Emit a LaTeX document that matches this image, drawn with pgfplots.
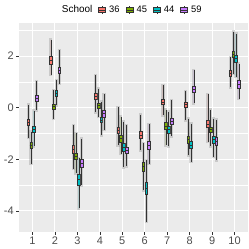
\documentclass[border=0pt]{standalone}
\usepackage{fontspec}
\setmainfont{Liberation Sans}
\usepackage{pgfplots}
\pgfplotsset{compat=1.18}
\usepgfplotslibrary{statistics}
\definecolor{c36}{HTML}{F8766D}
\definecolor{c45}{HTML}{7CAE00}
\definecolor{c44}{HTML}{00BFC4}
\definecolor{c59}{HTML}{C77CFF}
\definecolor{panel}{HTML}{EBEBEB}
\definecolor{gtext}{HTML}{4D4D4D}
\definecolor{gline}{HTML}{333333}
% #1 position, #2 colour, #3 lower whisker, #4 q1, #5 median, #6 q3, #7 upper whisker
\newcommand{\bx}[7]{%
  \addplot[forget plot, gray, opacity=0.3, line width=3.2bp] coordinates {(#1,#3-0.06) (#1,#7+0.06)};
  \addplot[forget plot, draw=gline, fill=#2, line width=0.4pt,
    boxplot/draw direction=y,
    boxplot/whisker extend=0,
    boxplot prepared={draw position=#1, lower whisker=#3, lower quartile=#4,
      median=#5, upper quartile=#6, upper whisker=#7, box extend=0.12}] coordinates {};
}
\newcommand{\keyimg}[1]{\addlegendimage{legend image code/.code={
  \draw[gline, line width=0.3pt] (3.5bp,-4bp)--(3.5bp,4bp);
  \draw[fill=#1, draw=gline, line width=0.3pt] (0bp,-2.5bp) rectangle (7bp,2.5bp);
  \draw[gline, line width=0.4pt] (0bp,0)--(7bp,0);}}}
\begin{document}
\begin{tikzpicture}
\begin{axis}[
  scale only axis, width=229bp, height=209bp,
  xmin=0.4, xmax=10.6, ymin=-4.82, ymax=3.28,
  axis background/.style={fill=panel},
  axis line style={draw=none},
  xtick={1,...,10}, ytick={-4,-2,0,2},
  minor ytick={-3,-1,1,3},
  grid=both,
  major grid style={white, line width=0.9bp},
  minor grid style={white, line width=0.45bp},
  tick align=outside, tick pos=left,
  major tick length=2.75bp,
  tick style={gline, line width=0.5bp},
  minor tick length=0pt,
  /pgf/number format/assume math mode=true,
  ticklabel style={font=\fontsize{11}{12}\selectfont, text=gtext},
  xticklabel style={yshift=1bp},
  yticklabel style={xshift=1bp},
  legend style={at={(0.489,1.062)}, anchor=center, draw=none, fill=none,
    font=\fontsize{9.4}{10}\selectfont, inner sep=0pt,
    /tikz/every odd column/.append style={column sep=1.5bp},
    /tikz/every even column/.append style={column sep=4bp}},
  legend columns=-1,
  legend cell align=left,
]
\addlegendimage{empty legend}\addlegendentry{\fontsize{10}{10}\selectfont School}
\keyimg{c36}\addlegendentry{36}
\keyimg{c45}\addlegendentry{45}
\keyimg{c44}\addlegendentry{44}
\keyimg{c59}\addlegendentry{59}
% group 1
\bx{0.8125}{c36}{-1.16}{-0.67}{-0.55}{-0.44}{0.12}
\bx{0.9375}{c45}{-2.17}{-1.59}{-1.47}{-1.35}{-0.94}
\bx{1.0625}{c44}{-1.50}{-0.97}{-0.85}{-0.72}{-0.13}
\bx{1.1875}{c59}{-0.10}{0.25}{0.37}{0.50}{1.02}
% group 2
\bx{1.8125}{c36}{1.28}{1.70}{1.85}{1.99}{2.63}
\bx{1.9375}{c45}{-0.43}{-0.05}{0.05}{0.15}{0.67}
\bx{2.0625}{c44}{0.09}{0.44}{0.55}{0.67}{1.06}
\bx{2.1875}{c59}{0.93}{1.34}{1.46}{1.57}{2.22}
% group 3
\bx{2.8125}{c36}{-2.36}{-1.78}{-1.61}{-1.46}{-0.68}
\bx{2.9375}{c45}{-2.55}{-2.01}{-1.88}{-1.75}{-1.00}
\bx{3.0625}{c44}{-3.90}{-3.00}{-2.79}{-2.58}{-1.97}
\bx{3.1875}{c59}{-3.00}{-2.30}{-2.17}{-2.01}{-1.20}
% group 4
\bx{3.8125}{c36}{-0.17}{0.31}{0.44}{0.57}{1.25}
\bx{3.9375}{c45}{-0.36}{-0.01}{0.08}{0.17}{0.74}
\bx{4.0625}{c44}{-1.07}{-0.58}{-0.48}{-0.37}{0.22}
\bx{4.1875}{c59}{-0.85}{-0.36}{-0.23}{-0.10}{0.52}
% group 5
\bx{4.8125}{c36}{-1.46}{-1.00}{-0.88}{-0.75}{0.02}
\bx{4.9375}{c45}{-1.78}{-1.33}{-1.20}{-1.07}{-0.36}
\bx{5.0625}{c44}{-2.30}{-1.68}{-1.54}{-1.39}{-0.55}
\bx{5.1875}{c59}{-2.27}{-1.78}{-1.65}{-1.52}{-0.68}
% group 6
\bx{5.8125}{c36}{-1.65}{-1.20}{-1.06}{-0.92}{-0.27}
\bx{5.9375}{c45}{-3.20}{-2.45}{-2.28}{-2.13}{-1.39}
\bx{6.0625}{c44}{-4.43}{-3.37}{-3.14}{-2.90}{-2.04}
\bx{6.1875}{c59}{-2.17}{-1.60}{-1.46}{-1.32}{-0.65}
% group 7
\bx{6.8125}{c36}{-0.30}{0.12}{0.22}{0.32}{0.86}
\bx{6.9375}{c45}{-1.46}{-0.84}{-0.71}{-0.58}{-0.08}
\bx{7.0625}{c44}{-1.50}{-0.98}{-0.85}{-0.72}{-0.17}
\bx{7.1875}{c59}{-1.11}{-0.66}{-0.53}{-0.41}{0.28}
% group 8
\bx{7.8125}{c36}{-0.49}{0.00}{0.12}{0.22}{0.63}
\bx{7.9375}{c45}{-1.85}{-1.37}{-1.24}{-1.11}{-0.43}
\bx{8.0625}{c44}{-2.10}{-1.59}{-1.45}{-1.30}{-0.62}
\bx{8.1875}{c59}{0.18}{0.61}{0.72}{0.85}{1.45}
% group 9
\bx{8.8125}{c36}{-1.33}{-0.77}{-0.63}{-0.49}{0.52}
\bx{8.9375}{c45}{-1.50}{-0.97}{-0.85}{-0.75}{-0.08}
\bx{9.0625}{c44}{-1.91}{-1.37}{-1.24}{-1.11}{-0.43}
\bx{9.1875}{c59}{-2.04}{-1.45}{-1.30}{-1.16}{-0.46}
% group 10
\bx{9.8125}{c36}{0.80}{1.21}{1.34}{1.47}{1.96}
\bx{9.9375}{c45}{1.32}{1.94}{2.06}{2.19}{2.93}
\bx{10.0625}{c44}{1.19}{1.77}{1.91}{2.04}{2.86}
\bx{10.1875}{c59}{0.35}{0.76}{0.92}{1.06}{1.70}
\end{axis}
\pgfresetboundingbox
\path[use as bounding box] ([xshift=-19bp,yshift=-17bp]current axis.south west) rectangle ([xshift=1bp,yshift=23bp]current axis.north east);
\end{tikzpicture}
\end{document}
